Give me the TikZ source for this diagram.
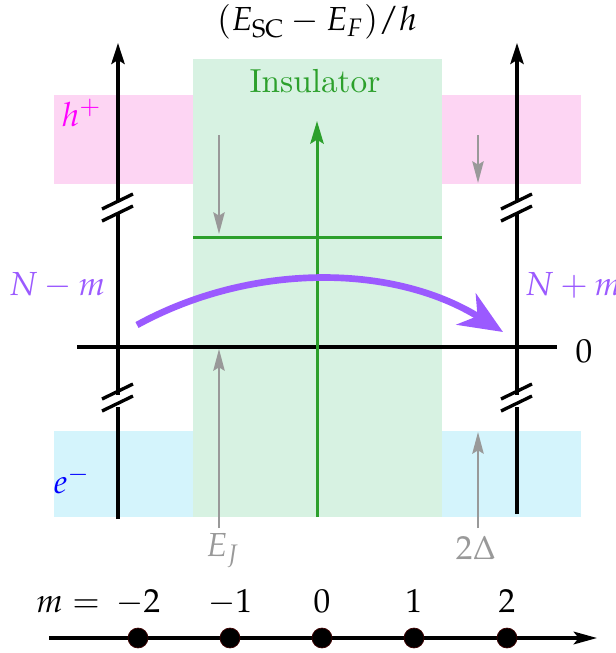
\documentclass[tikz,border=0pt]{standalone}
\usepackage{mathpazo}
\usetikzlibrary{arrows.meta}
\definecolor{pinkband}{RGB}{253,213,243}
\definecolor{cyanband}{RGB}{212,244,252}
\definecolor{insbg}{RGB}{215,242,226}
\definecolor{insgreen}{RGB}{44,160,44}
\definecolor{jpurple}{RGB}{155,90,255}
\definecolor{arrgray}{RGB}{153,153,153}
\definecolor{hmag}{RGB}{255,0,255}
\tikzset{
  axisline/.style={line width=1pt, black},
  axisarrow/.style={axisline, -{Stealth[length=6.3pt,width=4pt,inset=1.2pt]}},
  breakmark/.style={line width=1pt, black},
  greenline/.style={line width=0.9pt, insgreen},
  greenarrow/.style={greenline, -{Stealth[length=6.8pt,width=4pt,inset=1.2pt]}},
  grayarrow/.style={line width=0.75pt, arrgray, -{Stealth[length=6.5pt,width=3.4pt,inset=1pt]}},
  tunnel/.style={line width=2pt, jpurple, -{Stealth[length=13pt,width=11pt,inset=4pt]}},
  lab/.style={inner sep=0pt},
  dotnode/.style={circle, fill=black, draw=black!75!red, line width=0.2pt, minimum size=6pt, inner sep=0pt},
}
\begin{document}
\begin{tikzpicture}[x=0.3pt, y=-0.3pt]
\useasboundingbox (0,0) rectangle (616,653);
% bands
\fill[pinkband] (54,95) rectangle (193,184);
\fill[pinkband] (442,95) rectangle (581,184);
\fill[cyanband] (54,431) rectangle (193,517);
\fill[cyanband] (442,431) rectangle (581,517);
\fill[insbg] (193,59) rectangle (442,517);
% title and labels
\node[lab] (title) at (317,22) {$(E_{\mathrm{SC}}-E_F)/h$};
\node[lab, text=insgreen] (ins) at (315,81) {Insulator};
\node[lab, text=hmag] (hplus) at (82,113) {$h^{+}$};
\node[lab, text=blue] (eminus) at (72,480) {$e^{-}$};
\node[lab, text=jpurple] (nminus) at (57,285) {$N-m$};
\node[lab, text=jpurple] (nplus) at (573,285) {$N+m$};
\node[lab] (zero) at (584,351) {$0$};
\node[lab, text=arrgray] (ej) at (223,551) {$E_J$};
\node[lab, text=arrgray] (twodelta) at (476,548) {$2\Delta$};
% horizontal zero axis
\coordinate (zl) at (77,347);
\coordinate (zr) at (557,347);
\draw[axisline] (zl) -- (zr);
% left energy axis
\coordinate (lb) at (118,519);
\coordinate (lbr1) at (118,395);
\coordinate (lbr2) at (118,407);
\coordinate (lbr3) at (118,202);
\coordinate (lbr4) at (118,213);
\coordinate (lt) at (118,43);
\draw[axisline] (lb) -- (lbr2);
\draw[axisline] (lbr1) -- (lbr4);
\draw[axisarrow] (lbr3) -- (lt);
\draw[breakmark] (102,209) -- (133,194);
\draw[breakmark] (102,221) -- (133,206);
\draw[breakmark] (102,399) -- (133,384);
\draw[breakmark] (102,411) -- (133,396);
% right energy axis
\coordinate (rb) at (517,514);
\coordinate (rbr1) at (517,395);
\coordinate (rbr2) at (517,407);
\coordinate (rbr3) at (517,202);
\coordinate (rbr4) at (517,213);
\coordinate (rt) at (517,43);
\draw[axisline] (rb) -- (rbr2);
\draw[axisline] (rbr1) -- (rbr4);
\draw[axisarrow] (rbr3) -- (rt);
\draw[breakmark] (501,209) -- (532,194);
\draw[breakmark] (501,221) -- (532,206);
\draw[breakmark] (501,399) -- (532,384);
\draw[breakmark] (501,411) -- (532,396);
% insulator axis
\coordinate (gb) at (317,517);
\coordinate (gt) at (317,121);
\coordinate (gl) at (193,237);
\coordinate (gr) at (442,237);
\draw[greenline] (gl) -- (gr);
\draw[greenarrow] (gb) -- (gt);
% gray arrows
\coordinate (g1s) at (219,135);
\coordinate (g1e) at (219,234);
\coordinate (g2s) at (219,528);
\coordinate (g2e) at (219,349);
\coordinate (g3s) at (478,135);
\coordinate (g3e) at (478,183);
\coordinate (g4s) at (478,528);
\coordinate (g4e) at (478,432);
\draw[grayarrow] (g1s) -- (g1e);
\draw[grayarrow] (g2s) -- (g2e);
\draw[grayarrow] (g3s) -- (g3e);
\draw[grayarrow] (g4s) -- (g4e);
% tunnelling arrow
\coordinate (ts) at (137,325);
\coordinate (te) at (503,332);
\draw[tunnel] (ts) .. controls (250,263) and (392,263) .. (te);
% bottom m axis
\coordinate (ml) at (49,638);
\coordinate (mr) at (597,638);
\draw[line width=1pt, -{Stealth[length=7pt,width=3.8pt,inset=1.5pt]}] (ml) -- (mr);
\foreach \i/\x/\t in {a/138/-2, b/230/-1, c/322/0, d/414/1, e/507/2}{
  \node[dotnode] (dot\i) at (\x,638) {};
  \node[lab, anchor=base] (m\i) at (\x,612) {$\t$};
}
\node[lab, anchor=base east] (mlab) at ([xshift=-1.5pt]ma.base west) {$m={}$};
\end{tikzpicture}
\end{document}
